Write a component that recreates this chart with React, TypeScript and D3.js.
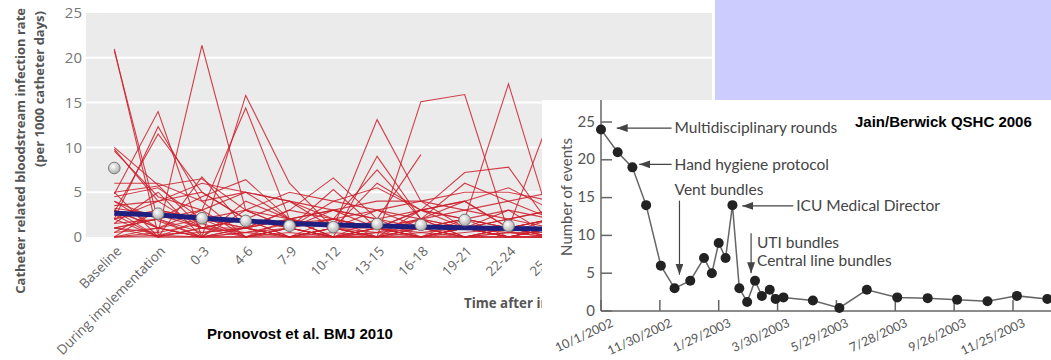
import React from "react";
import * as d3 from "d3";

// ---- left chart (Pronovost) data ----
const periods = [
  "Baseline", "During implementation", "0-3", "4-6", "7-9", "10-12",
  "13-15", "16-18", "19-21", "22-24", "25-27", "28-30",
];
const rateTicks = [0, 5, 10, 15, 20, 25];

// one row per hospital, one value per period (null = no data)
const hospitalRates: (number | null)[][] = [
  [21.0, 0.3, 0.5, 1.0, 0.0, 0.5, 0.0, 1.0, 0.0, 0.5, 0.0, 0.5],
  [20.8, 1.8, 0.0, 0.5, 1.0, 0.0, 1.0, 0.0, 0.5, 1.0, 0.0, 0.0],
  [10.0, 5.8, 1.0, 2.0, 0.0, 1.0, 0.5, 2.0, 1.0, 0.0, 1.0, 0.0],
  [9.6, 4.5, 3.0, 0.0, 2.0, 1.0, 3.0, 1.0, 0.0, 1.0, 0.0, 1.0],
  [4.8, 14.0, 0.0, 1.0, 3.0, 2.0, 1.0, 0.0, 2.0, 1.0, 2.0, 1.0],
  [2.0, 12.3, 4.0, 0.0, 1.0, 0.0, 2.0, 3.0, 1.0, 0.0, 0.0, 0.0],
  [0.0, 0.5, 21.4, 3.0, 2.0, 0.0, 1.0, 0.0, 1.0, 2.0, 1.0, 0.0],
  [3.0, 1.0, 0.0, 15.8, 6.0, 1.0, 0.0, 2.0, 4.0, 1.0, 2.0, 1.0],
  [1.0, 2.0, 3.0, 14.4, 2.0, 0.0, 1.0, 0.0, 1.0, 3.0, 0.0, 1.0],
  [5.0, 0.0, 6.7, 1.0, 3.0, 6.6, 2.0, 0.0, 1.0, 0.0, 1.0, 0.0],
  [0.5, 3.0, 1.0, 2.0, 0.0, 1.0, 13.1, 4.0, 1.0, 0.0, 1.0, 0.0],
  [4.0, 2.0, 0.0, 1.0, 2.0, 0.0, 9.0, 2.0, 0.0, 1.0, 0.0, 2.0],
  [2.5, 0.0, 1.0, 0.0, 1.0, 2.0, 0.0, 15.1, 15.9, 0.5, 2.0, 1.0],
  [3.0, 1.0, 2.0, 0.0, 1.0, 0.0, 0.5, 1.0, 2.0, 17.1, 1.0, 0.0],
  [1.5, 5.0, 0.0, 4.0, 2.0, 3.0, 2.0, 9.2, null, null, null, null],
  [0.0, 3.0, 2.0, 1.0, 0.0, 2.0, 1.0, 3.0, 7.2, 7.8, 1.0, 0.0],
  [2.0, 4.0, 5.0, 2.0, 4.0, 1.0, 6.0, 3.0, 4.0, 1.0, 14.0, 3.0],
  [1.0, 0.0, 0.0, 0.0, 0.0, 0.0, 0.0, 0.0, 0.0, 0.0, 0.0, 0.0],
  [0.0, 1.0, 0.0, 0.0, 1.0, 0.0, 0.0, 0.0, 1.0, 0.0, 0.0, 0.0],
  [4.5, 5.5, 2.0, 3.0, 1.0, 2.0, 3.0, 2.0, 3.0, 2.0, 3.0, 2.0],
  [3.5, 4.0, 6.0, 5.0, 4.0, 3.0, 4.0, 4.0, 5.0, 5.0, 4.0, 3.0],
  [2.0, 3.0, 2.0, 2.0, 1.0, 3.0, 2.0, 1.0, 2.0, 1.0, 2.0, 1.0],
  [1.5, 2.0, 0.5, 1.0, 0.0, 1.0, 1.0, 0.0, 1.0, 1.0, 0.0, 0.0],
  [5.0, 5.7, 6.5, 3.0, 5.0, 4.0, 3.0, 4.0, 3.0, 4.0, 5.0, 3.0],
  [3.0, 0.0, 2.0, 1.0, 2.0, 1.0, 0.0, 1.0, 2.0, 0.0, 1.0, 1.0],
  [9.8, 4.0, 1.0, 2.0, 1.0, 4.0, 5.5, 3.0, 2.0, 3.0, 2.0, 2.0],
  [2.8, 11.5, 5.0, 2.0, 1.0, 0.0, 1.0, 2.0, 0.0, 1.0, 1.0, 0.0],
  [0.0, 0.0, 0.0, 3.0, 1.0, 5.3, 1.0, 2.0, 6.0, 4.0, 2.0, 1.0],
  [1.0, 2.0, 4.5, 6.4, 2.0, 1.0, 0.0, 3.0, 4.0, 5.5, 3.0, 1.0],
  [4.0, 1.0, 3.0, 5.0, 4.0, 2.0, 7.5, 2.0, 1.0, 2.0, 3.0, 2.0],
  [0.5, 1.0, 0.0, 0.0, 0.0, 1.0, 0.0, 0.0, 0.0, 0.0, 1.0, 0.0],
  [2.0, 0.0, 1.0, 1.0, 0.0, 0.0, 0.0, 1.0, 0.0, 0.0, 0.0, 0.0],
  [3.2, 2.5, 1.0, 0.5, 1.5, 2.0, 1.0, 0.5, 1.0, 0.5, 0.5, 0.0],
  [6.0, 6.0, 4.0, 5.0, 2.0, 3.0, 1.0, 3.0, 2.0, 1.0, 2.0, 1.0],
  [0.0, 0.2, 0.0, 0.5, 0.0, 0.0, 0.5, 0.0, 0.0, 0.5, 0.0, 0.0],
  [1.0, 0.5, 1.5, 0.0, 0.5, 0.0, 0.0, 0.5, 0.0, 0.0, 0.0, 0.5],
];
const meanRates = [7.7, 2.6, 2.1, 1.8, 1.25, 1.1, 1.45, 1.35, 1.9, 1.25];
const trendRates = [2.65, 2.45, 2.1, 1.8, 1.5, 1.35, 1.25, 1.12, 1.02, 0.95, 0.87, 0.8];

// ---- right chart (Jain/Berwick) data ----
const eventDates = [
  "2002-10-01", "2002-10-18", "2002-11-02", "2002-11-16", "2002-12-01", "2002-12-15",
  "2002-12-31", "2003-01-14", "2003-01-22", "2003-01-29", "2003-02-05", "2003-02-12",
  "2003-02-19", "2003-02-27", "2003-03-07", "2003-03-14", "2003-03-22", "2003-03-28",
  "2003-04-05", "2003-05-05", "2003-06-01", "2003-06-29", "2003-07-30", "2003-08-30",
  "2003-09-29", "2003-10-30", "2003-11-29", "2003-12-30",
];
const eventCounts = [
  24, 21, 19, 14, 6, 3, 4, 7, 5, 9, 7, 14, 3, 1.2, 4, 2, 2.8, 1.6, 1.8, 1.4, 0.4,
  2.8, 1.8, 1.7, 1.5, 1.3, 2, 1.6,
];
const dateTicks = [
  "10/1/2002", "11/30/2002", "1/29/2003", "3/30/2003",
  "5/29/2003", "7/28/2003", "9/26/2003", "11/25/2003",
];
const countTicks = [0, 5, 10, 15, 20, 25];

const sideNotes = [
  { label: "Multidisciplinary rounds", tip: "2002-10-17", textAt: "2002-12-15", value: 24.2 },
  { label: "Hand hygiene protocol", tip: "2002-11-09", textAt: "2002-12-15", value: 19.4 },
  { label: "ICU Medical Director", tip: "2003-02-22", textAt: "2003-04-18", value: 13.9 },
];
const downNotes = [
  { lines: ["Vent bundles"], at: "2002-12-20", from: 14.6, tip: 4.8, textAt: "2002-12-15", textValue: 16.0 },
  { lines: ["UTI bundles", "Central line bundles"], at: "2003-03-03", from: 10.3, tip: 5.0, textAt: "2003-03-09", textValue: 9.1 },
];

const parse = d3.timeParse("%Y-%m-%d");
const parseTick = d3.timeParse("%m/%d/%Y");

export default function App() {
  // left chart scales
  const xL = d3.scalePoint<string>().domain(periods).range([114.3, 114.3 + 43.8 * 11]);
  const yL = d3.scaleLinear().domain([0, 25]).range([237, 13]);
  const hospLine = d3
    .line<number | null>()
    .defined((d) => d !== null)
    .x((_, i) => xL(periods[i]) as number)
    .y((d) => yL(d as number));
  const trendLine = d3
    .line<number>()
    .x((_, i) => xL(periods[i]) as number)
    .y((d) => yL(d))
    .curve(d3.curveMonotoneX);

  // right chart scales
  const xR = d3.scaleTime().domain([parse("2002-10-01")!, parse("2003-11-25")!]).range([601, 1013]);
  const yR = d3.scaleLinear().domain([0, 25]).range([311, 122]);
  const eventLine = d3
    .line<number>()
    .x((_, i) => xR(parse(eventDates[i])!))
    .y((d) => yR(d));

  const leftFont = "'Open Sans', sans-serif";
  const rightFont = "Lato, sans-serif";
  const capFont = "'Liberation Sans', Arial, sans-serif";

  return (
    <svg width={1051} height={360} style={{ position: "absolute", left: 0, top: 0, background: "#fff" }}>
      <defs>
        <radialGradient id="ball" cx="40%" cy="35%" r="70%">
          <stop offset="0%" stopColor="#ffffff" />
          <stop offset="100%" stopColor="#a8a8a8" />
        </radialGradient>
        <marker id="head" markerUnits="userSpaceOnUse" markerWidth={11} markerHeight={8}
          refX={11} refY={4} orient="auto">
          <path d="M0,0 L11,4 L0,8 Z" fill="#444" />
        </marker>
      </defs>

      {/* ---------- left chart ---------- */}
      <rect x={86} y={13} width={626} height={224} fill="#ebebeb" />
      {rateTicks.filter((t) => t > 0 && t < 25).map((t) => (
        <line key={t} x1={86} x2={712} y1={yL(t)} y2={yL(t)} stroke="#fff" strokeWidth={2} />
      ))}
      {rateTicks.map((t) => (
        <text key={t} x={82} y={yL(t)} dy="0.35em" textAnchor="end" fontFamily={leftFont}
          fontSize={15} fill="#777">{t}</text>
      ))}
      {periods.map((p) => (
        <text key={p} transform={`translate(${(xL(p) as number) + 8},${252}) rotate(-45)`}
          textAnchor="end" fontFamily={leftFont} fontSize={13.5} fill="#666">{p}</text>
      ))}
      <g fill="none" stroke="#cc1f2a" strokeWidth={1.1} strokeOpacity={0.85}>
        {hospitalRates.map((row, i) => (
          <path key={i} d={hospLine(row) || ""} />
        ))}
      </g>
      <path d={trendLine(trendRates) || ""} fill="none" stroke="#1f1f80" strokeWidth={5} />
      {meanRates.map((v, i) => (
        <circle key={i} cx={xL(periods[i]) as number} cy={yL(v)} r={5.8}
          fill="url(#ball)" stroke="#777" strokeWidth={1} />
      ))}
      <text transform="translate(22,8) rotate(-90)" textAnchor="end" dominantBaseline="middle"
        fontFamily={leftFont} fontWeight="bold" fontSize={13} fill="#555">
        Catheter related bloodstream infection rate
      </text>
      <text transform="translate(41,11) rotate(-90)" textAnchor="end" dominantBaseline="middle"
        fontFamily={leftFont} fontWeight="bold" fontSize={13} fill="#555">
        (per 1000 catheter days)
      </text>
      <text x={464} y={308} fontFamily={leftFont} fontWeight="bold" fontSize={13.3} fill="#555">
        Time after implementation (months)
      </text>
      <text x={207} y={339} fontFamily={capFont} fontWeight="bold" fontSize={15} fill="#000">
        Pronovost et al. BMJ 2010
      </text>

      {/* ---------- overlays ---------- */}
      <rect x={715} y={0} width={336} height={100} fill="#ccccff" />
      <rect x={542} y={100} width={509} height={260} fill="#fff" />

      {/* ---------- right chart ---------- */}
      <line x1={601} x2={601} y1={100} y2={311} stroke="#666" strokeWidth={1.5} />
      <line x1={601} x2={1051} y1={311} y2={311} stroke="#666" strokeWidth={1.5} />
      {countTicks.map((t) => (
        <g key={t}>
          <line x1={601} x2={612} y1={yR(t)} y2={yR(t)} stroke="#666" strokeWidth={1.5} />
          <text x={595} y={yR(t)} dy="0.3em" textAnchor="end" fontFamily={rightFont}
            fontSize={15} fill="#555">{t}</text>
        </g>
      ))}
      {dateTicks.map((t) => {
        const x = xR(parseTick(t)!);
        return (
          <g key={t}>
            <line x1={x} x2={x} y1={311} y2={300} stroke="#666" strokeWidth={1.5} />
            <text transform={`translate(${x + 13},${326}) rotate(-25)`} textAnchor="end"
              fontFamily={rightFont} fontSize={12.5} fill="#555">{t}</text>
          </g>
        );
      })}
      <text transform={`translate(568,${197}) rotate(-90)`} textAnchor="middle" dominantBaseline="middle"
        fontFamily={rightFont} fontSize={15} fill="#555">Number of events</text>

      <path d={eventLine(eventCounts) || ""} fill="none" stroke="#666" strokeWidth={1.5} />
      {eventCounts.map((v, i) => (
        <circle key={i} cx={xR(parse(eventDates[i])!)} cy={yR(v)} r={5} fill="#222" />
      ))}

      {sideNotes.map((n) => {
        const tx = xR(parse(n.textAt)!);
        return (
          <g key={n.label}>
            <line x1={tx - 3} x2={xR(parse(n.tip)!)} y1={yR(n.value)} y2={yR(n.value)}
              stroke="#444" strokeWidth={1.2} markerEnd="url(#head)" />
            <text x={tx} y={yR(n.value)} dy="0.35em" fontFamily={rightFont} fontSize={15.5}
              fill="#444">{n.label}</text>
          </g>
        );
      })}
      {downNotes.map((n) => {
        const ax = xR(parse(n.at)!);
        const tx = xR(parse(n.textAt)!);
        return (
          <g key={n.lines[0]}>
            <line x1={ax} x2={ax} y1={yR(n.from)} y2={yR(n.tip)} stroke="#444" strokeWidth={1.2}
              markerEnd="url(#head)" />
            {n.lines.map((l, j) => (
              <text key={l} x={tx} y={yR(n.textValue) + j * 18} dy="0.35em" fontFamily={rightFont}
                fontSize={15.5} fill="#444">{l}</text>
            ))}
          </g>
        );
      })}
      <text x={855} y={127} fontFamily={capFont} fontWeight="bold" fontSize={15} fill="#000">
        Jain/Berwick QSHC 2006
      </text>
    </svg>
  );
}
